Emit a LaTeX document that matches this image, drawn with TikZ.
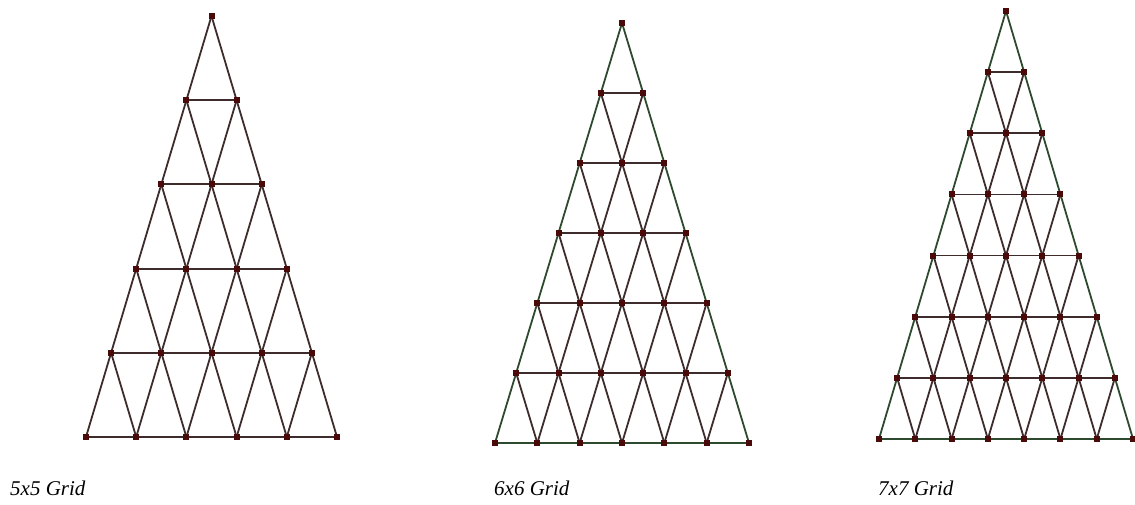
\documentclass[tikz,border=0pt]{standalone}
\usepackage{fontspec}
\setmainfont{Liberation Serif}
\definecolor{edgec}{HTML}{3E2C2C}
\definecolor{bordc}{HTML}{2E4A2E}
\definecolor{markc}{HTML}{4A0A0A}
\begin{document}
\begin{tikzpicture}[x=1pt,y=-1pt,
  vtx/.style={draw=none,fill=markc,minimum size=6pt,inner sep=0pt,outer sep=0pt,rectangle},
  edge/.style={draw=edgec,line width=1.8pt},
  bedge/.style={draw=bordc,line width=1.8pt},
  lbl/.style={font=\itshape\fontsize{21}{25}\selectfont,anchor=base west,inner sep=0pt}]
\useasboundingbox (0,0) rectangle (1135,505);
% grid builder: #1 name, #2 rows, #3 apex x, #4 apex y, #5 dx, #6 dy, #7 border style
\newcommand{\trigrid}[7]{%
  \foreach \r in {0,...,#2}{%
    \foreach \i in {0,...,\r}{%
      \coordinate (#1-\r-\i) at ({#3+(\i-\r/2)*#5},{#4+\r*#6});
    }
  }
  \foreach \r in {0,...,#2}{%
    \foreach \i in {0,...,\r}{%
      \ifnum\i<\r
        \pgfmathtruncatemacro{\j}{\i+1}
        \ifnum\r=#2 \draw[#7] (#1-\r-\i) -- (#1-\r-\j); \else \draw[edge] (#1-\r-\i) -- (#1-\r-\j); \fi
      \fi
      \ifnum\r<#2
        \pgfmathtruncatemacro{\s}{\r+1}
        \pgfmathtruncatemacro{\j}{\i+1}
        \ifnum\i=0 \draw[#7] (#1-\r-\i) -- (#1-\s-\i); \else \draw[edge] (#1-\r-\i) -- (#1-\s-\i); \fi
        \ifnum\i=\r \draw[#7] (#1-\r-\i) -- (#1-\s-\j); \else \draw[edge] (#1-\r-\i) -- (#1-\s-\j); \fi
      \fi
    }
  }
  \foreach \r in {0,...,#2}{%
    \foreach \i in {0,...,\r}{%
      \node[vtx] (#1-v-\r-\i) at (#1-\r-\i) {};
    }
  }
}
\trigrid{A}{5}{211.5}{16}{50.2}{84.2}{edge}
\trigrid{B}{6}{622}{23}{42.33}{70}{bedge}
\trigrid{C}{7}{1006}{11}{36.29}{61.14}{bedge}
\node[lbl] (la) at (10,495) {5x5 Grid};
\node[lbl] (lb) at (494,495) {6x6 Grid};
\node[lbl] (lc) at (878,495) {7x7 Grid};
\end{tikzpicture}
\end{document}
